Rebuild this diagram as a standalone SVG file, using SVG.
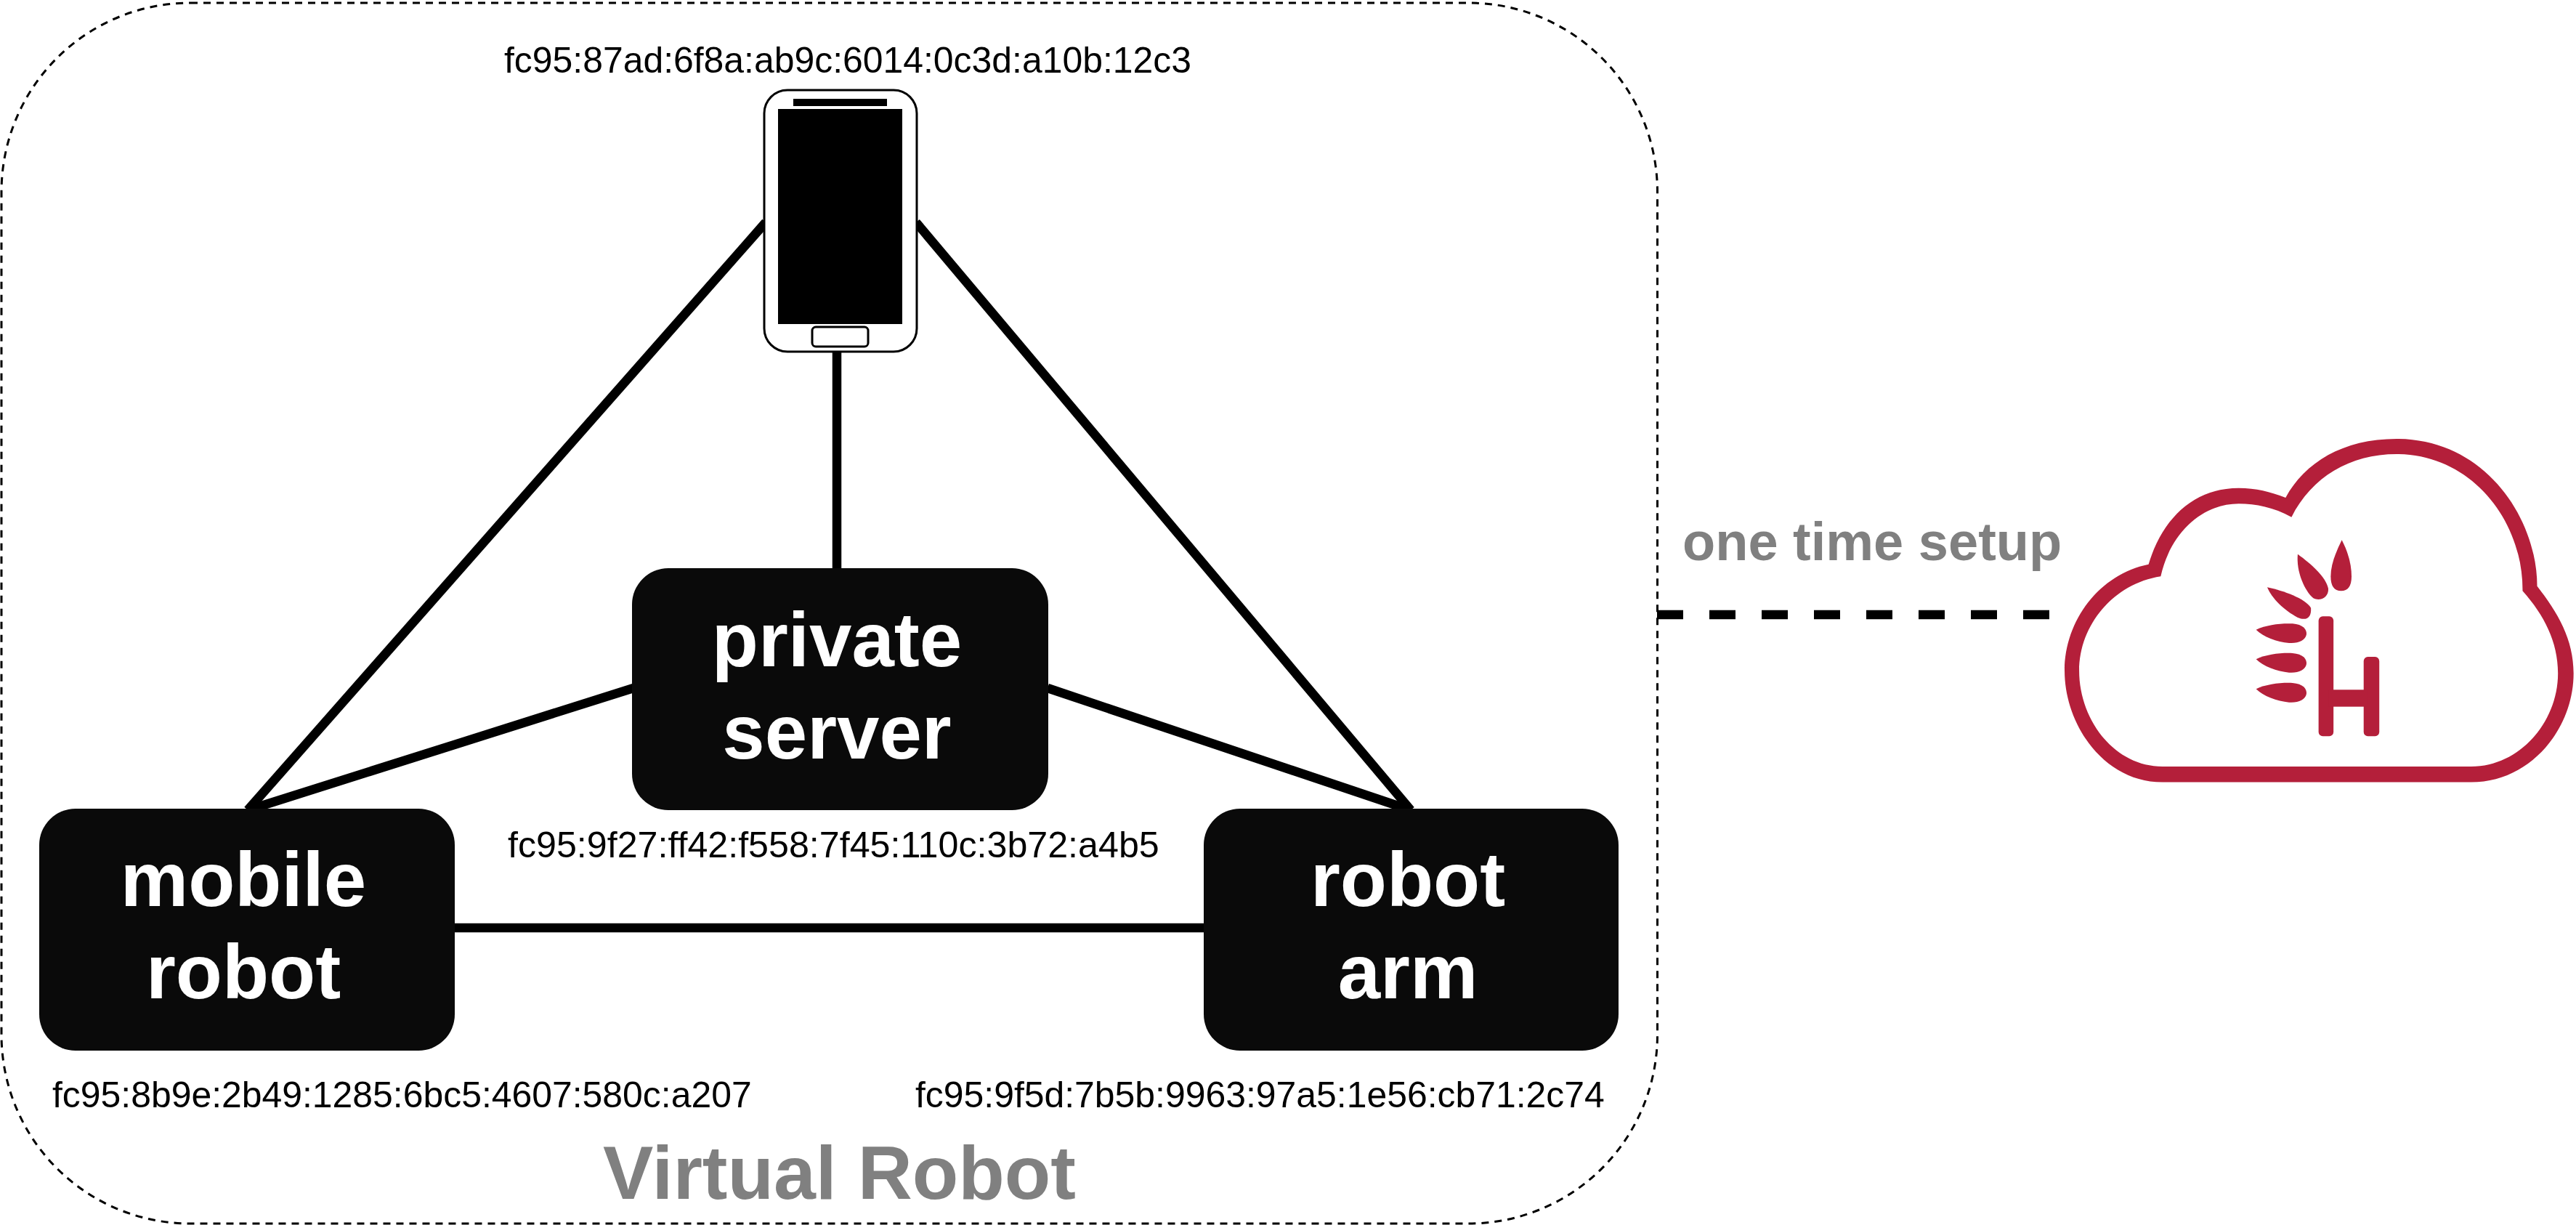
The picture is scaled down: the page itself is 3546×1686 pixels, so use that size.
<svg xmlns="http://www.w3.org/2000/svg" width="3546" height="1686" viewBox="0 0 3546 1686">
<style>
.addr{font:49.9px "Liberation Sans",Arial,sans-serif;fill:#000}
.nl{font:bold 105px "Liberation Sans",Arial,sans-serif;fill:#fff;text-anchor:middle}
.gr{font-family:"Liberation Sans",Arial,sans-serif;font-weight:bold;fill:#808080}
.box{fill:#0a0a0a}
.ln{stroke:#000;stroke-width:12.5;fill:none}
.red{fill:#b41f3a}
</style>
<rect width="3546" height="1686" fill="#fff"/>
<g id="virtual-robot">
<rect x="2" y="4" width="2279.5" height="1680" rx="260" ry="260" fill="none" stroke="#000" stroke-width="3" stroke-dasharray="10 8"/>
<text class="gr" x="830" y="1650" font-size="104">Virtual Robot</text>
</g>
<g id="connectors">
<line class="ln" x1="1054" y1="306" x2="341" y2="1115"/>
<line class="ln" x1="1261" y1="306" x2="1942" y2="1115"/>
<line class="ln" x1="1152" y1="485" x2="1152" y2="783"/>
<line class="ln" x1="872" y1="947" x2="341" y2="1115"/>
<line class="ln" x1="1442" y1="947" x2="1942" y2="1115"/>
<line class="ln" x1="626" y1="1277" x2="1658" y2="1277"/>
<line class="ln" x1="2281" y1="846" x2="2823" y2="846" stroke-dasharray="36 36"/>
</g>
<g id="phone">
<rect x="1052" y="124" width="210" height="360" rx="32" ry="32" fill="#fff" stroke="#000" stroke-width="3"/>
<rect x="1092" y="136" width="129" height="10"/>
<rect x="1071" y="150" width="171" height="296"/>
<rect x="1118" y="450" width="77" height="27" rx="5" ry="5" fill="#fff" stroke="#000" stroke-width="3"/>
<text class="addr" x="694" y="100">fc95:87ad:6f8a:ab9c:6014:0c3d:a10b:12c3</text>
</g>
<g id="private-server">
<rect class="box" x="870" y="782" width="573" height="333" rx="50" ry="50"/>
<text class="nl" x="1152" y="917">private</text>
<text class="nl" x="1152" y="1044">server</text>
<text class="addr" x="699" y="1180" style="font-size:50.2px">fc95:9f27:ff42:f558:7f45:110c:3b72:a4b5</text>
</g>
<g id="mobile-robot">
<rect class="box" x="54" y="1113" width="572" height="333" rx="50" ry="50"/>
<text class="nl" x="335" y="1247">mobile</text>
<text class="nl" x="335" y="1374">robot</text>
<text class="addr" x="72" y="1524">fc95:8b9e:2b49:1285:6bc5:4607:580c:a207</text>
</g>
<g id="robot-arm">
<rect class="box" x="1657" y="1113" width="571" height="333" rx="50" ry="50"/>
<text class="nl" x="1938" y="1247">robot</text>
<text class="nl" x="1938" y="1374">arm</text>
<text class="addr" x="1260" y="1524">fc95:9f5d:7b5b:9963:97a5:1e56:cb71:2c74</text>
</g>
<g id="cloud">
<text class="gr" x="2316" y="771" font-size="74">one time setup</text>
<g transform="translate(2800 580) scale(.4776 .3333)">
<path class="red" fill-rule="evenodd" d="M370 1490H1260C1430 1490 1555 1270 1555 1040C1555 900 1510 790 1450 680C1450 400 1300 72 1045 72C890 72 780 170 725 315C680 290 640 275 590 275C460 275 370 400 330 590C190 630 88 820 88 1030C88 1250 200 1490 370 1490Z
M370 1425H1260C1400 1425 1510 1240 1510 1040C1510 910 1470 800 1408 700C1410 410 1260 135 1045 135C910 135 800 230 742 395C690 355 640 340 590 340C490 340 395 450 365 640C230 670 130 840 130 1030C130 1230 230 1425 370 1425Z"/>
<path class="red" d="M887 490C905 540 915 590 915 640C915 680 905 700 885 700C865 700 855 680 855 640C855 590 870 540 887 490Z"/>
<path class="red" d="M760 548C800 590 840 640 848 690C850 725 825 745 805 730C780 700 755 620 760 548Z"/>
<path class="red" d="M672 685C720 700 780 730 798 770C800 810 785 825 760 810C720 780 685 730 672 685Z"/>
<path class="red" d="M640 860C670 840 710 833 745 835C775 838 787 860 785 880C782 905 760 918 735 915C700 910 660 890 640 860Z"/>
<path class="red" transform="translate(0 122)" d="M640 860C670 840 710 833 745 835C775 838 787 860 785 880C782 905 760 918 735 915C700 910 660 890 640 860Z"/>
<path class="red" transform="translate(0 245)" d="M640 860C670 840 710 833 745 835C775 838 787 860 785 880C782 905 760 918 735 915C700 910 660 890 640 860Z"/>
<rect class="red" x="820" y="805" width="43" height="495" rx="12" ry="18"/>
<rect class="red" x="950" y="972" width="45" height="328" rx="12" ry="18"/>
<rect class="red" x="850" y="1108" width="110" height="70"/>
</g>
</g>
</svg>
